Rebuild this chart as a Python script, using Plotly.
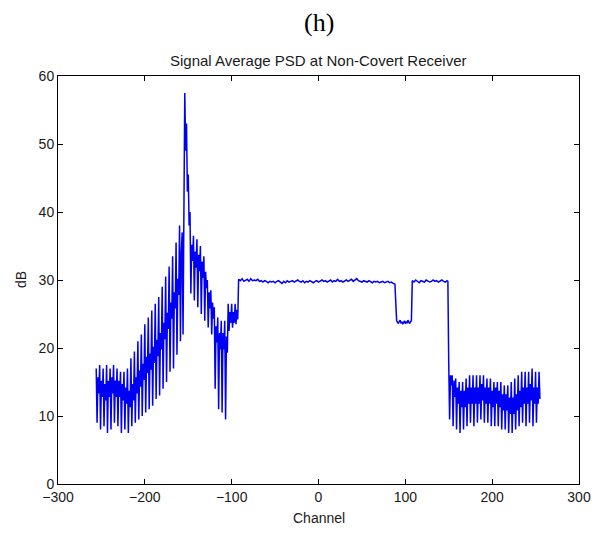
import plotly.graph_objects as go

# ---- data ----
# left noisy band, channels -256 .. -93 (one value per channel)
left_ch = list(range(-256, -92))
left_db = [
    17.0, 9.0, 15.7, 13.3,   17.5, 8.0, 15.2, 12.8,   17.0, 8.5, 14.7, 12.3,   17.5, 7.5, 15.2, 12.8,
    17.0, 8.0, 15.7, 13.3,   17.5, 9.0, 15.2, 12.8,   17.0, 8.5, 15.2, 12.8,   16.5, 7.5, 14.7, 12.3,
    16.5, 8.0, 14.2, 11.8,   17.0, 7.5, 13.7, 11.3,   18.5, 8.5, 14.7, 12.3,   19.5, 9.0, 15.7, 13.3,
    21.0, 9.5, 16.7, 14.3,   22.0, 10.0, 17.7, 15.3,  23.5, 10.5, 18.7, 16.3,  24.5, 11.0, 19.2, 16.8,
    25.5, 11.5, 20.2, 17.8,  26.5, 12.5, 21.2, 18.8,  27.5, 13.0, 22.2, 19.8,  29.0, 14.0, 23.7, 21.3,
    30.5, 15.0, 25.2, 22.8,  32.0, 16.5, 26.7, 24.3,  33.5, 17.0, 28.2, 25.8,  35.5, 19.0, 30.2, 27.8,
    38.0, 21.0, 34.0, 37.0,  22.0, 46.0, 57.5, 49.0,  53.0, 43.0, 45.5, 38.0,  40.0, 28.0, 35.2, 32.8,
    36.5, 27.0, 34.2, 31.8,  36.0, 26.0, 33.7, 31.3,  35.0, 25.0, 32.7, 30.3,  33.5, 24.0, 31.2, 28.8,
    30.0, 23.0, 28.2, 25.8,  28.5, 22.0, 26.7, 24.3,  26.0, 14.0, 23.2, 20.8,  24.5, 11.0, 22.2, 19.8,
    24.0, 10.5, 22.2, 19.8,  24.0, 9.5, 21.7, 19.3,   26.5, 22.5, 25.3, 23.7,  26.5, 23.0, 25.3, 23.7,
    26.5, 23.5, 25.6, 24.2,
]

# first flat plateau, channels -92 .. 88 (every second channel)
flat1_ch = list(range(-92, 90, 2))
flat1_db = [
    30.1, 29.9, 30.2, 29.8, 30.0, 30.1, 29.8, 30.2, 29.9, 30.0,
    29.9, 30.1, 29.8, 29.9, 29.7, 29.9, 29.8, 29.6, 29.8, 29.7,
    29.8, 29.6, 29.8, 29.9, 29.7, 29.5, 29.8, 29.6, 29.9, 29.7,
    29.8, 29.9, 29.7, 29.8, 30.0, 29.8, 29.7, 29.9, 29.6, 29.8,
    29.7, 29.9, 29.8, 29.6, 29.8, 29.9, 29.7, 29.8, 30.0, 29.8,
    29.9, 29.7, 29.8, 30.0, 29.7, 29.9, 29.8, 30.1, 29.8, 29.9,
    29.7, 29.8, 30.0, 29.8, 29.9, 30.1, 29.8, 30.0, 30.2, 29.9,
    29.8, 29.7, 29.9, 29.8, 29.7, 29.9, 29.8, 29.6, 29.8, 29.7,
    29.8, 29.6, 29.7, 29.8, 29.6, 29.7, 29.8, 29.6, 29.7, 29.5,
    29.4,
]

# notch, channels 90 .. 107
notch_ch = list(range(90, 108))
notch_db = [24.0, 23.7, 23.6, 23.9, 24.1, 23.7, 23.8, 23.5, 23.9,
            24.0, 23.6, 23.8, 23.7, 24.1, 23.8, 23.6, 23.9, 24.0]

# second plateau, channels 108 .. 148 (every second) and 149
flat2_ch = list(range(108, 150, 2)) + [149]
flat2_db = [29.9, 29.7, 30.0, 29.8, 29.6, 29.9, 29.8, 29.7, 30.0, 29.9, 29.7,
            29.8, 30.0, 29.8, 29.9, 29.7, 29.9, 30.0, 29.8, 29.7, 29.9, 29.8]

# right noisy band, channels 150 .. 255
right_ch = list(range(150, 256))
right_db = [
    17.5, 9.5, 16.0, 14.5,
    16.0, 8.5, 15.2, 12.8,   15.5, 8.0, 14.2, 11.8,   15.0, 7.5, 13.7, 11.3,   15.0, 8.0, 13.7, 11.3,
    15.5, 8.5, 14.2, 11.8,   16.0, 9.0, 14.2, 11.8,   16.0, 8.5, 14.2, 11.8,   16.0, 9.0, 14.2, 11.8,
    16.0, 9.5, 14.7, 12.3,   16.0, 9.0, 14.2, 11.8,   15.5, 9.0, 14.2, 11.8,   15.5, 8.5, 13.7, 11.3,
    15.0, 8.5, 14.2, 11.8,   15.0, 8.5, 13.7, 11.3,   15.0, 8.0, 13.2, 10.8,   14.5, 8.0, 13.2, 10.8,
    14.5, 7.5, 12.7, 10.3,   15.0, 7.5, 12.7, 10.3,   15.5, 8.0, 13.2, 10.8,   16.0, 8.5, 13.7, 11.3,
    16.5, 9.0, 14.2, 11.8,   16.5, 8.5, 14.2, 11.8,   16.5, 9.0, 14.7, 12.3,   17.0, 8.5, 14.2, 11.8,
    16.5, 9.0, 14.2, 11.8,
    16.5, 12.5,
]

x_ticks = [-300, -200, -100, 0, 100, 200, 300]
y_ticks = [0, 10, 20, 30, 40, 50, 60]

channel = left_ch + flat1_ch + notch_ch + flat2_ch + right_ch
psd_db = left_db + flat1_db + notch_db + flat2_db + right_db

fig = go.Figure()
fig.add_trace(go.Scatter(
    x=channel, y=psd_db, mode="lines",
    line=dict(color="rgb(0,0,245)", width=1.5),
    hoverinfo="skip", showlegend=False,
))

axis_common = dict(
    showgrid=False, zeroline=False, automargin=False,
    showline=True, linecolor="#000000", linewidth=1, mirror="ticks",
    ticks="inside", ticklen=5, tickwidth=1, tickcolor="#000000",
    ticklabeloverflow="allow",
    tickfont=dict(family="Liberation Sans, Arial", size=14, color="#1a1a1a"),
)

# the page body adds an 8px margin, so the figure is sized to fit inside it
fig.update_layout(
    width=583, height=517,
    margin=dict(l=50, r=12, t=68, b=41),
    paper_bgcolor="white", plot_bgcolor="white",
    xaxis=dict(range=[-300, 300], tickvals=x_ticks, **axis_common),
    yaxis=dict(range=[0, 60], tickvals=y_ticks, **axis_common),
    annotations=[
        dict(text="(h)", x=0.5, y=(484 - 22) / 408, xref="paper", yref="paper",
             showarrow=False, xanchor="center", yanchor="middle",
             font=dict(family="Liberation Serif, Times New Roman", size=26, color="#000000")),
        dict(text="Signal Average PSD at Non-Covert Receiver", x=0.5, y=(484 - 61) / 408,
             xref="paper", yref="paper", showarrow=False, xanchor="center", yanchor="middle",
             font=dict(family="Liberation Sans, Arial", size=15, color="#1a1a1a")),
        dict(text="Channel", x=0.5, y=(484 - 518) / 408, xref="paper", yref="paper",
             showarrow=False, xanchor="center", yanchor="middle",
             font=dict(family="Liberation Sans, Arial", size=14, color="#1a1a1a")),
        dict(text="dB", x=(21 - 58) / 521, y=0.5, xref="paper", yref="paper",
             showarrow=False, xanchor="center", yanchor="middle", textangle=-90,
             font=dict(family="Liberation Sans, Arial", size=14, color="#1a1a1a")),
    ],
)

fig.write_html("out.html")
